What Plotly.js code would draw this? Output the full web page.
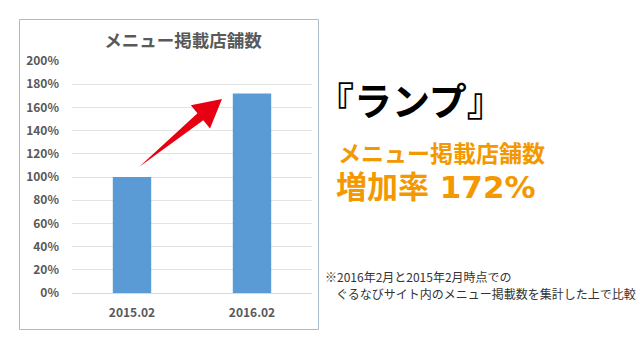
<!DOCTYPE html>
<html>
<head>
<meta charset="utf-8">
<script src="https://cdn.plot.ly/plotly-3.0.1.min.js"></script>
<style>html,body{margin:0;padding:0;background:#fff;}#chart{width:640px;height:360px;}</style>
</head>
<body>
<div id="chart"></div>
<script>
// ---- data ----
const categories = ['2015.02', '2016.02'];
const values = [100, 172];
const chartTitle = 'メニュー掲載店舗数';
const storeName = '『ランプ』';
const highlightLabel = 'メニュー掲載店舗数';
const highlightValue = '増加率 172%';
const noteLine1 = '※2016年2月と2015年2月時点での';
const noteLine2 = '　ぐるなびサイト内のメニュー掲載数を集計した上で比較';

// ---- layout helpers (pixel -> paper) ----
const W = 640, H = 360;
const M = {l: 72, r: 328, t: 61, b: 67};
const PW = W - M.l - M.r, PH = H - M.t - M.b;
const px = x => (x - M.l) / PW;
const py = y => (H - M.b - y) / PH;

const CJK = '"Noto Sans CJK JP", "Noto Sans", sans-serif';
const MIX = '"DejaVu Sans", "Noto Sans CJK JP", sans-serif';
const grey = '#595959';
const orange = '#f39800';

// decorative arrow polygon (pixel space)
const arrowPts = [[139,167],[197.5,113.3],[190.8,105.2],[222,99],[210,128.4],[203.3,120.3]];
const arrowPath = arrowPts.map((p,i)=> (i?'L':'M') + px(p[0]).toFixed(4) + ',' + py(p[1]).toFixed(4)).join(' ') + ' Z';

const trace = {
  type: 'bar',
  x: categories,
  y: values,
  marker: {color: '#5B9BD5'},
  hoverinfo: 'skip'
};

const layout = {
  width: W, height: H,
  margin: M,
  paper_bgcolor: '#fff',
  plot_bgcolor: 'rgba(0,0,0,0)',
  showlegend: false,
  bargap: 0.68,
  title: {
    text: chartTitle,
    font: {family: CJK, size: 17.5, color: grey, weight: 'bold'},
    xref: 'paper', x: px(183), xanchor: 'center',
    yref: 'container', y: 1 - 41 / H, yanchor: 'middle'
  },
  xaxis: {
    type: 'category',
    showgrid: false,
    showline: true, linecolor: '#d9d9d9', linewidth: 1,
    ticks: '',
    ticklabelstandoff: 9,
    tickfont: {family: CJK, size: 12, color: grey, weight: 'bold'},
    fixedrange: true
  },
  yaxis: {
    range: [0, 200],
    dtick: 20,
    ticksuffix: '%',
    showgrid: true, gridcolor: '#e3e3e3', gridwidth: 1,
    zeroline: false,
    showline: false,
    ticks: '',
    ticklabelstandoff: 12,
    tickfont: {family: CJK, size: 12, color: grey, weight: 'bold'},
    fixedrange: true
  },
  shapes: [
    {type: 'rect', xref: 'paper', yref: 'paper',
     x0: px(19.5), x1: px(318.5), y0: py(329.5), y1: py(19.5),
     line: {color: '#a9bccb', width: 1}, fillcolor: 'rgba(0,0,0,0)', layer: 'below'},
    {type: 'path', xref: 'paper', yref: 'paper', path: arrowPath,
     fillcolor: '#e60012', line: {width: 0}, layer: 'above'}
  ],
  annotations: [
    {text: storeName, xref: 'paper', yref: 'paper', x: px(314), y: py(98),
     xanchor: 'left', yanchor: 'middle', showarrow: false,
     font: {family: CJK, size: 38, color: '#000', weight: 'bold'}},
    {text: highlightLabel, xref: 'paper', yref: 'paper', x: px(336), y: py(153.5),
     xanchor: 'left', yanchor: 'middle', showarrow: false,
     font: {family: MIX, size: 23, color: orange, weight: 'bold'}},
    {text: highlightValue, xref: 'paper', yref: 'paper', x: px(334), y: py(186.5),
     xanchor: 'left', yanchor: 'middle', showarrow: false,
     font: {family: MIX, size: 31, color: orange, weight: 'bold'}},
    {text: noteLine1, xref: 'paper', yref: 'paper', x: px(323), y: py(276),
     xanchor: 'left', yanchor: 'middle', showarrow: false,
     font: {family: CJK, size: 12, color: '#333'}},
    {text: noteLine2, xref: 'paper', yref: 'paper', x: px(322), y: py(293),
     xanchor: 'left', yanchor: 'middle', showarrow: false,
     font: {family: CJK, size: 12, color: '#333'}}
  ]
};

Plotly.newPlot('chart', [trace], layout, {displayModeBar: false, staticPlot: true});
</script>
</body>
</html>
